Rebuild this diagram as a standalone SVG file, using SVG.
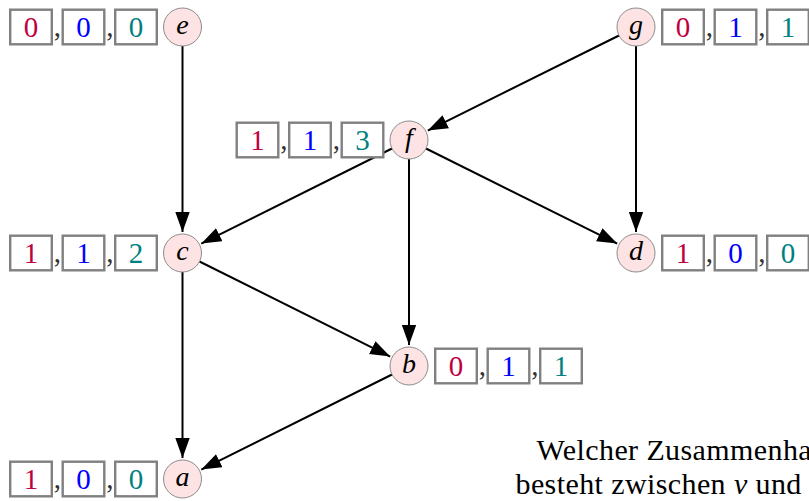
<svg xmlns="http://www.w3.org/2000/svg" width="809" height="501" viewBox="0 0 809 501">
<style>
  .node circle { fill: #fde3e3; stroke: #8c8c8c; stroke-width: 1; }
  .lbl { font-family: "Liberation Serif", serif; font-style: italic; font-size: 28px; text-anchor: middle; fill: #000; }
  .box { fill: #fff; stroke: #808080; stroke-width: 2.4; }
  .dig { font-family: "Liberation Serif", serif; font-size: 29px; text-anchor: middle; }
  .d1 { fill: #bf0040; }
  .d2 { fill: #0000ff; }
  .d3 { fill: #008080; }
  .com { font-family: "Liberation Serif", serif; font-size: 29px; fill: #333; }
  .edge { stroke: #000; stroke-width: 2; fill: none; marker-end: url(#arr); }
  .txt { font-family: "Liberation Serif", serif; font-size: 30px; letter-spacing: 0.4px; fill: #000; }
</style>
<defs>
  <marker id="arr" markerUnits="userSpaceOnUse" markerWidth="20" markerHeight="15" refX="20" refY="7.5" orient="auto">
    <path d="M20,7.5 L0,0.3 L0,14.7 Z" fill="#000"/>
  </marker>
</defs>
<rect width="809" height="501" fill="#fff"/>

<g id="edges">
  <line class="edge" x1="182.5" y1="46" x2="182.5" y2="232"/>
  <line class="edge" x1="636" y1="46" x2="636" y2="232"/>
  <line class="edge" x1="409" y1="159" x2="409" y2="345"/>
  <line class="edge" x1="182.5" y1="272" x2="182.5" y2="458"/>
  <line class="edge" x1="619" y1="35.5" x2="427.8" y2="130.6"/>
  <line class="edge" x1="392" y1="148.5" x2="201.3" y2="243.6"/>
  <line class="edge" x1="426" y1="148.5" x2="617.2" y2="243.6"/>
  <line class="edge" x1="199.5" y1="261.5" x2="390.2" y2="356.6"/>
  <line class="edge" x1="392" y1="374.5" x2="201.3" y2="469.6"/>
</g>

<g id="node-e" class="node" transform="translate(182.5,27)">
  <circle r="19"/>
  <text class="lbl" y="6.7">e</text>
  <rect class="box" x="-172.3" y="-17.3" width="41.6" height="34.6"/>
  <rect class="box" x="-119.8" y="-17.3" width="41.6" height="34.6"/>
  <rect class="box" x="-67.3" y="-17.3" width="41.6" height="34.6"/>
  <text class="dig d1" x="-151.5" y="9.5">0</text>
  <text class="dig d2" x="-99" y="9.5">0</text>
  <text class="dig d3" x="-46.5" y="9.5">0</text>
  <text class="com" x="-128.8" y="9">,</text>
  <text class="com" x="-76.3" y="9">,</text>
</g>

<g id="node-g" class="node" transform="translate(636,27)">
  <circle r="19"/>
  <text class="lbl" y="6.7">g</text>
  <rect class="box" x="26.2" y="-17.3" width="41.6" height="34.6"/>
  <rect class="box" x="78.7" y="-17.3" width="41.6" height="34.6"/>
  <rect class="box" x="131.2" y="-17.3" width="41.6" height="34.6"/>
  <text class="dig d1" x="47" y="9.5">0</text>
  <text class="dig d2" x="99.5" y="9.5">1</text>
  <text class="dig d3" x="152" y="9.5">1</text>
  <text class="com" x="69.7" y="9">,</text>
  <text class="com" x="122.2" y="9">,</text>
</g>

<g id="node-f" class="node" transform="translate(409,140)">
  <circle r="19"/>
  <text class="lbl" y="6.7">f</text>
  <rect class="box" x="-172.3" y="-17.3" width="41.6" height="34.6"/>
  <rect class="box" x="-119.8" y="-17.3" width="41.6" height="34.6"/>
  <rect class="box" x="-67.3" y="-17.3" width="41.6" height="34.6"/>
  <text class="dig d1" x="-151.5" y="9.5">1</text>
  <text class="dig d2" x="-99" y="9.5">1</text>
  <text class="dig d3" x="-46.5" y="9.5">3</text>
  <text class="com" x="-128.8" y="9">,</text>
  <text class="com" x="-76.3" y="9">,</text>
</g>

<g id="node-c" class="node" transform="translate(182.5,253)">
  <circle r="19"/>
  <text class="lbl" y="6.7">c</text>
  <rect class="box" x="-172.3" y="-17.3" width="41.6" height="34.6"/>
  <rect class="box" x="-119.8" y="-17.3" width="41.6" height="34.6"/>
  <rect class="box" x="-67.3" y="-17.3" width="41.6" height="34.6"/>
  <text class="dig d1" x="-151.5" y="9.5">1</text>
  <text class="dig d2" x="-99" y="9.5">1</text>
  <text class="dig d3" x="-46.5" y="9.5">2</text>
  <text class="com" x="-128.8" y="9">,</text>
  <text class="com" x="-76.3" y="9">,</text>
</g>

<g id="node-d" class="node" transform="translate(636,253)">
  <circle r="19"/>
  <text class="lbl" y="6.7">d</text>
  <rect class="box" x="26.2" y="-17.3" width="41.6" height="34.6"/>
  <rect class="box" x="78.7" y="-17.3" width="41.6" height="34.6"/>
  <rect class="box" x="131.2" y="-17.3" width="41.6" height="34.6"/>
  <text class="dig d1" x="47" y="9.5">1</text>
  <text class="dig d2" x="99.5" y="9.5">0</text>
  <text class="dig d3" x="152" y="9.5">0</text>
  <text class="com" x="69.7" y="9">,</text>
  <text class="com" x="122.2" y="9">,</text>
</g>

<g id="node-b" class="node" transform="translate(409,366)">
  <circle r="19"/>
  <text class="lbl" y="6.7">b</text>
  <rect class="box" x="26.2" y="-17.3" width="41.6" height="34.6"/>
  <rect class="box" x="78.7" y="-17.3" width="41.6" height="34.6"/>
  <rect class="box" x="131.2" y="-17.3" width="41.6" height="34.6"/>
  <text class="dig d1" x="47" y="9.5">0</text>
  <text class="dig d2" x="99.5" y="9.5">1</text>
  <text class="dig d3" x="152" y="9.5">1</text>
  <text class="com" x="69.7" y="9">,</text>
  <text class="com" x="122.2" y="9">,</text>
</g>

<g id="node-a" class="node" transform="translate(182.5,479)">
  <circle r="19"/>
  <text class="lbl" y="6.7">a</text>
  <rect class="box" x="-172.3" y="-17.3" width="41.6" height="34.6"/>
  <rect class="box" x="-119.8" y="-17.3" width="41.6" height="34.6"/>
  <rect class="box" x="-67.3" y="-17.3" width="41.6" height="34.6"/>
  <text class="dig d1" x="-151.5" y="9.5">1</text>
  <text class="dig d2" x="-99" y="9.5">0</text>
  <text class="dig d3" x="-46.5" y="9.5">0</text>
  <text class="com" x="-128.8" y="9">,</text>
  <text class="com" x="-76.3" y="9">,</text>
</g>

<g id="caption">
  <text class="txt" x="536.5" y="460">Welcher Zusammenha</text>
  <text class="txt" x="515.5" y="494">besteht zwischen <tspan font-style="italic">ν</tspan> und</text>
</g>
</svg>
